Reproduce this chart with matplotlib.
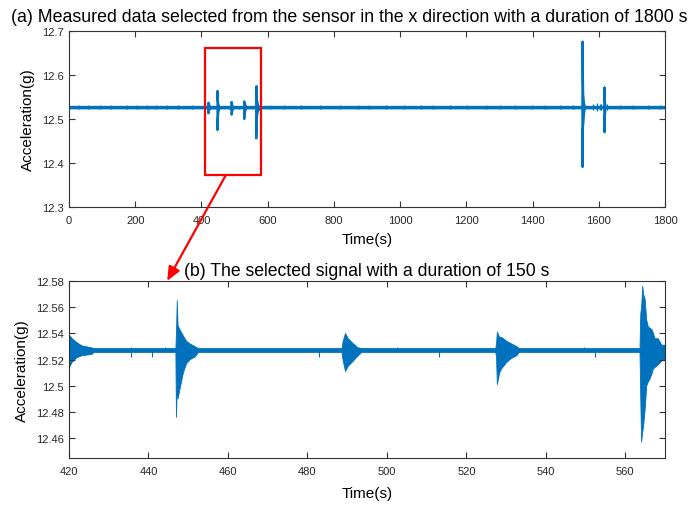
import matplotlib.pyplot as plt
from matplotlib.patches import Rectangle, ConnectionPatch

plt.rcParams['font.family'] = ['Liberation Sans', 'DejaVu Sans']

BLUE = '#0072BD'

# envelope (upper / lower) of the x-direction acceleration record, time in s, value in g
env_t = [0, 418.8, 419.2, 420.3, 420.8, 422.0, 423.3, 425.8, 426.3,
         446.9, 447.05, 447.25, 447.45, 447.9, 448.8, 449.6, 450.5, 451.7, 452.6,
         488.7, 489.0, 489.6, 490.3, 491.6, 492.8, 493.7,
         527.4, 527.6, 527.8, 528.4, 528.9, 530.2, 531.4, 532.7, 533.3,
         563.7, 563.9, 564.1, 564.4, 564.6, 565.0, 565.4, 565.8, 566.2, 566.7,
         567.1, 567.5, 567.9, 568.3, 569.2, 570.0, 572.0, 575.0,
         1548.8, 1549.3, 1549.6, 1550.2, 1551.5, 1554.0, 1557.0,
         1615.0, 1615.8, 1617.0, 1619.0,
         1800]
env_hi = [12.5285, 12.5285, 12.538, 12.538, 12.536, 12.533, 12.5305, 12.529, 12.5285,
          12.5285, 12.540, 12.565, 12.546, 12.543, 12.538, 12.534, 12.532, 12.530, 12.5285,
          12.5285, 12.534, 12.540, 12.536, 12.532, 12.529, 12.5285,
          12.5285, 12.532, 12.541, 12.537, 12.537, 12.534, 12.532, 12.530, 12.5285,
          12.5285, 12.555, 12.560, 12.576, 12.570, 12.566, 12.550, 12.545, 12.544, 12.543,
          12.540, 12.536, 12.536, 12.536, 12.531, 12.531, 12.530, 12.5285,
          12.5285, 12.600, 12.677, 12.600, 12.555, 12.535, 12.5285,
          12.5285, 12.573, 12.540, 12.5285,
          12.5285]
env_lo = [12.5255, 12.5255, 12.514, 12.515, 12.518, 12.5215, 12.523, 12.524, 12.5255,
          12.5255, 12.476, 12.500, 12.490, 12.497, 12.510, 12.517, 12.520, 12.522, 12.5255,
          12.5255, 12.519, 12.511, 12.515, 12.519, 12.523, 12.5255,
          12.5255, 12.522, 12.501, 12.510, 12.513, 12.518, 12.521, 12.523, 12.5255,
          12.5255, 12.490, 12.457, 12.465, 12.469, 12.482, 12.500, 12.503, 12.505, 12.509,
          12.513, 12.514, 12.515, 12.516, 12.519, 12.520, 12.522, 12.5255,
          12.5255, 12.450, 12.392, 12.480, 12.490, 12.515, 12.5255,
          12.5255, 12.471, 12.510, 12.5255,
          12.5255]

# isolated short spikes on the quiet baseline
blip_t = [30, 58, 95, 128, 176, 205, 236, 262, 296, 330, 372,
          435.5, 440.8, 444.2, 483.0, 502.5, 513.0, 549.6, 552.4,
          608, 648, 702, 757, 818, 872, 905, 958, 1012, 1063, 1098, 1150, 1203,
          1258, 1302, 1347, 1398, 1437, 1482, 1521, 1583, 1596, 1604, 1608, 1625,
          1664, 1703, 1748, 1786]
blip_hi = [12.532, 12.531, 12.532, 12.531, 12.532, 12.531, 12.532, 12.531, 12.532, 12.531, 12.532,
           12.530, 12.5285, 12.530, 12.5285, 12.530, 12.5285, 12.530, 12.5285,
           12.532, 12.531, 12.532, 12.531, 12.532, 12.531, 12.532, 12.531, 12.532, 12.531, 12.532, 12.531, 12.532,
           12.531, 12.532, 12.531, 12.532, 12.531, 12.532, 12.531, 12.534, 12.536, 12.535, 12.534, 12.535,
           12.532, 12.531, 12.532, 12.531]
blip_lo = [12.522, 12.523, 12.522, 12.523, 12.522, 12.523, 12.522, 12.523, 12.522, 12.523, 12.522,
           12.5224, 12.522, 12.5255, 12.522, 12.5255, 12.522, 12.5255, 12.522,
           12.522, 12.523, 12.522, 12.523, 12.522, 12.523, 12.522, 12.523, 12.522, 12.523, 12.522, 12.523, 12.522,
           12.523, 12.522, 12.523, 12.522, 12.523, 12.522, 12.523, 12.521, 12.519, 12.520, 12.521, 12.520,
           12.522, 12.523, 12.522, 12.523]

# selected window shown in the lower panel
sel_t = [410.7, 580.0]
sel_g = [12.373, 12.661]

full_ticks = [0, 200, 400, 600, 800, 1000, 1200, 1400, 1600, 1800]
full_yticks = [12.3, 12.4, 12.5, 12.6, 12.7]
zoom_ticks = [420, 440, 460, 480, 500, 520, 540, 560]
zoom_yticks = [12.46, 12.48, 12.5, 12.52, 12.54, 12.56, 12.58]


def style_axes(ax):
    for s in ax.spines.values():
        s.set_color('#333333')
        s.set_linewidth(0.8)
    ax.tick_params(direction='in', top=True, right=True, length=4,
                   width=0.8, color='#333333', labelsize=8, labelcolor='#262626')
    ax.tick_params(axis='x', pad=6)


fig = plt.figure(figsize=(6.99, 5.06), dpi=100)
ax1 = fig.add_axes([0.0987, 0.5889, 0.8527, 0.3479])
ax2 = fig.add_axes([0.0987, 0.0929, 0.8527, 0.3498])

# overview, 1800 s
ax1.fill_between(env_t, env_lo, env_hi, color=BLUE, edgecolor=BLUE, linewidth=1.6)
ax1.vlines(blip_t, blip_lo, blip_hi, color=BLUE, linewidth=0.9)
ax1.set_xlim(0, 1800)
ax1.set_ylim(12.3, 12.7)
ax1.set_xticks(full_ticks)
ax1.set_yticks(full_yticks)
ax1.set_yticklabels(['12.3', '12.4', '12.5', '12.6', '12.7'])
ax1.set_xlabel('Time(s)', fontsize=11, labelpad=5)
ax1.set_ylabel('Acceleration(g)', fontsize=11, labelpad=5)
style_axes(ax1)
ax1.add_patch(Rectangle((sel_t[0], sel_g[0]), sel_t[1] - sel_t[0], sel_g[1] - sel_g[0],
                        fill=False, edgecolor='#FF0000', linewidth=1.6, zorder=5))
fig.text(0.5, 0.966, '(a) Measured data selected from the sensor in the x direction with a duration of 1800 s',
         ha='center', va='center', fontsize=12.8)

# selected 150 s window
ax2.fill_between(env_t, env_lo, env_hi, color=BLUE, edgecolor=BLUE, linewidth=0.6)
ax2.vlines(blip_t, blip_lo, blip_hi, color=BLUE, linewidth=0.8)
ax2.set_xlim(420, 570)
ax2.set_ylim(12.445, 12.58)
ax2.set_xticks(zoom_ticks)
ax2.set_yticks(zoom_yticks)
ax2.set_yticklabels(['12.46', '12.48', '12.5', '12.52', '12.54', '12.56', '12.58'])
ax2.set_xlabel('Time(s)', fontsize=11, labelpad=7)
ax2.set_ylabel('Acceleration(g)', fontsize=11, labelpad=5)
style_axes(ax2)
ax2.set_title('(b) The selected signal with a duration of 150 s', fontsize=12.7, pad=4)

arrow = ConnectionPatch(xyA=(474, sel_g[0]), coordsA=ax1.transData,
                        xyB=(444.7, 12.58), coordsB=ax2.transData,
                        arrowstyle='-|>,head_length=0.7,head_width=0.3',
                        color='#FF0000', linewidth=1.6, mutation_scale=12, zorder=6)
fig.add_artist(arrow)

fig.savefig('out.png', dpi=100)
